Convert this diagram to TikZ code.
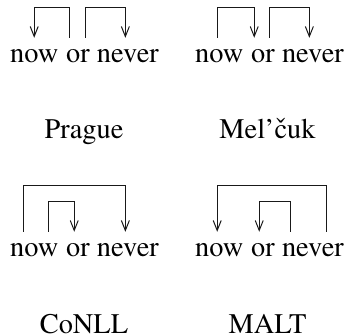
\documentclass[tikz,border=0pt]{standalone}
\usepackage[T1]{fontenc}
\renewcommand{\rmdefault}{ptm}
\usetikzlibrary{arrows.meta,calc}
\begin{document}
\begin{tikzpicture}[x=1bp,y=1bp,
  word/.style={inner sep=0pt,anchor=base west,font=\fontfamily{ptm}\fontsize{28.5}{34}\selectfont},
  lbl/.style={inner sep=0pt,anchor=base,text depth=0pt,font=\fontfamily{ptm}\fontsize{28.5}{34}\selectfont},
  dep/.style={line width=1bp,draw=black!90,-{Straight Barb[length=10bp,width=8bp]}}]
\useasboundingbox (0,0) rectangle (346,-335);
% top-left
\node[word] (a1) at (10,-62) {now};
\node[word] (a2) at (66,-62) {or};
\node[word] (a3) at (96.8,-62) {never};
% top-right
\node[word] (b1) at (195,-62) {now};
\node[word] (b2) at (251,-62) {or};
\node[word] (b3) at (281.8,-62) {never};
% bottom-left
\node[word] (c1) at (10,-256) {now};
\node[word] (c2) at (66,-256) {or};
\node[word] (c3) at (96.8,-256) {never};
% bottom-right
\node[word] (d1) at (195,-256) {now};
\node[word] (d2) at (251,-256) {or};
\node[word] (d3) at (281.8,-256) {never};
% labels
\node[lbl] (l1) at (84,-138) {Prague};
\node[lbl] (l2) at (267.5,-138) {Mel'\v{c}uk};
\node[lbl] (l3) at (84,-333) {CoNLL};
\node[lbl] (l4) at (267.5,-333) {MALT};
% Prague
\draw[dep] ($(a2.north)+(-8.5,11)$) -- ++(0,30) -| ($(a1.north)+(-0.1,11)$);
\draw[dep] ($(a2.north)+(7.2,11)$) -- ++(0,30) -| ($(a3.north)+(-2.6,11)$);
% Mel'cuk
\draw[dep] ($(b1.north)+(-1.4,11)$) -- ++(0,30) -| ($(b2.north)+(-8.8,11)$);
\draw[dep] ($(b2.north)+(6.9,11)$) -- ++(0,30) -| ($(b3.north)+(-3.6,11)$);
% CoNLL
\draw[dep] ($(c1.north)+(-11.1,11)$) -- ++(0,46) -| ($(c3.north)+(-2.6,11)$);
\draw[dep] ($(c1.north)+(14.6,11)$) -- ++(0,30) -| ($(c2.north)+(-3.8,11)$);
% MALT
\draw[dep] ($(d3.north)+(13.7,11)$) -- ++(0,46) -| ($(d1.north)+(-2.1,11)$);
\draw[dep] ($(d3.north)+(-22,11)$) -- ++(0,30) -| ($(d2.north)+(-3.8,11)$);
\end{tikzpicture}
\end{document}
